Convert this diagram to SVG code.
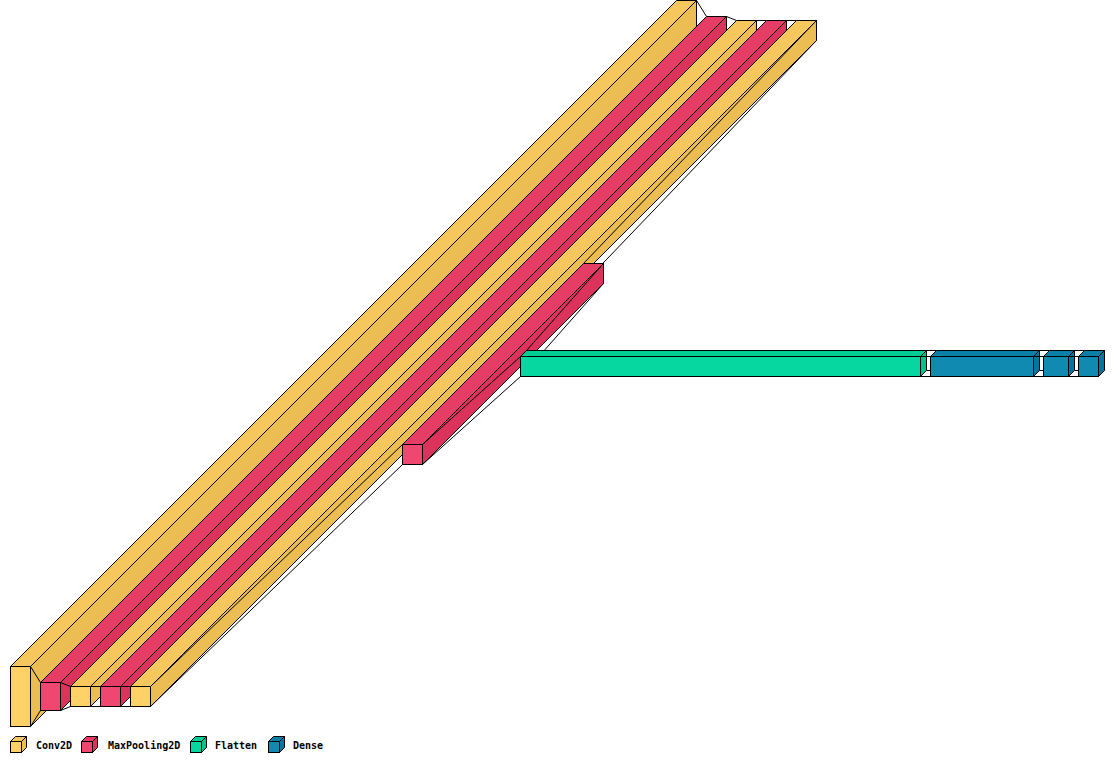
<svg xmlns="http://www.w3.org/2000/svg" xmlns:xlink="http://www.w3.org/1999/xlink" width="1115" height="763" viewBox="0 0 1115 763">
<style>
  .box rect, .box polygon { stroke:#000; stroke-width:1; stroke-linejoin:miter; }
  .conv .f{fill:#FFD166} .conv .t{fill:#F5C75C} .conv .s{fill:#EBBD52}
  .pool .f{fill:#EF476F} .pool .t{fill:#E53D65} .pool .s{fill:#DB335B}
  .flat .f{fill:#06D6A0} .flat .t{fill:#00CC96} .flat .s{fill:#00C28C}
  .dense .f{fill:#118AB2} .dense .t{fill:#0780A8} .dense .s{fill:#00769E}
  .connectors line { stroke:#000; stroke-width:1; fill:none; }
  .legend text { font-family:"DejaVu Sans Mono","Liberation Mono",monospace; font-weight:bold; font-size:10px; fill:#000; }
</style>
<defs>
  <polygon id="s2" points="40.5,710.5 40.5,682.5 706.5,16.5 726.5,16.5 726.5,44.5 60.5,710.5"/>
  <polygon id="s3" points="70.5,706.5 70.5,686.5 736.5,20.5 756.5,20.5 756.5,40.5 90.5,706.5"/>
  <polygon id="s4" points="100.5,706.5 100.5,686.5 766.5,20.5 786.5,20.5 786.5,40.5 120.5,706.5"/>
  <polygon id="s5" points="130.5,706.5 130.5,686.5 796.5,20.5 816.5,20.5 816.5,40.5 150.5,706.5"/>
  <polygon id="s6" points="402.5,464.5 402.5,444.5 583.5,263.5 603.5,263.5 603.5,283.5 422.5,464.5"/>
  <polygon id="s7" points="520.5,376.5 520.5,356.5 526.5,350.5 926.5,350.5 926.5,370.5 920.5,376.5"/>
  <polygon id="s8" points="930.5,376.5 930.5,356.5 936.5,350.5 1039.5,350.5 1039.5,370.5 1033.5,376.5"/>
  <polygon id="s9" points="1043.5,376.5 1043.5,356.5 1049.5,350.5 1074.5,350.5 1074.5,370.5 1068.5,376.5"/>
  <polygon id="s10" points="1078.5,376.5 1078.5,356.5 1084.5,350.5 1104.5,350.5 1104.5,370.5 1098.5,376.5"/>
  <mask id="m2" maskUnits="userSpaceOnUse" x="0" y="0" width="1115" height="763">
    <rect width="1115" height="763" fill="#fff"/>
    <g fill="#000"><use xlink:href="#s2"/><use xlink:href="#s3"/><use xlink:href="#s4"/><use xlink:href="#s5"/><use xlink:href="#s6"/><use xlink:href="#s7"/><use xlink:href="#s8"/><use xlink:href="#s9"/><use xlink:href="#s10"/></g>
  </mask>
  <mask id="m3" maskUnits="userSpaceOnUse" x="0" y="0" width="1115" height="763">
    <rect width="1115" height="763" fill="#fff"/>
    <g fill="#000"><use xlink:href="#s3"/><use xlink:href="#s4"/><use xlink:href="#s5"/><use xlink:href="#s6"/><use xlink:href="#s7"/><use xlink:href="#s8"/><use xlink:href="#s9"/><use xlink:href="#s10"/></g>
  </mask>
  <mask id="m4" maskUnits="userSpaceOnUse" x="0" y="0" width="1115" height="763">
    <rect width="1115" height="763" fill="#fff"/>
    <g fill="#000"><use xlink:href="#s4"/><use xlink:href="#s5"/><use xlink:href="#s6"/><use xlink:href="#s7"/><use xlink:href="#s8"/><use xlink:href="#s9"/><use xlink:href="#s10"/></g>
  </mask>
  <mask id="m5" maskUnits="userSpaceOnUse" x="0" y="0" width="1115" height="763">
    <rect width="1115" height="763" fill="#fff"/>
    <g fill="#000"><use xlink:href="#s5"/><use xlink:href="#s6"/><use xlink:href="#s7"/><use xlink:href="#s8"/><use xlink:href="#s9"/><use xlink:href="#s10"/></g>
  </mask>
  <mask id="m6" maskUnits="userSpaceOnUse" x="0" y="0" width="1115" height="763">
    <rect width="1115" height="763" fill="#fff"/>
    <g fill="#000"><use xlink:href="#s6"/><use xlink:href="#s7"/><use xlink:href="#s8"/><use xlink:href="#s9"/><use xlink:href="#s10"/></g>
  </mask>
  <mask id="m7" maskUnits="userSpaceOnUse" x="0" y="0" width="1115" height="763">
    <rect width="1115" height="763" fill="#fff"/>
    <g fill="#000"><use xlink:href="#s7"/><use xlink:href="#s8"/><use xlink:href="#s9"/><use xlink:href="#s10"/></g>
  </mask>
  <mask id="m8" maskUnits="userSpaceOnUse" x="0" y="0" width="1115" height="763">
    <rect width="1115" height="763" fill="#fff"/>
    <g fill="#000"><use xlink:href="#s8"/><use xlink:href="#s9"/><use xlink:href="#s10"/></g>
  </mask>
  <mask id="m9" maskUnits="userSpaceOnUse" x="0" y="0" width="1115" height="763">
    <rect width="1115" height="763" fill="#fff"/>
    <g fill="#000"><use xlink:href="#s9"/><use xlink:href="#s10"/></g>
  </mask>
  <mask id="m10" maskUnits="userSpaceOnUse" x="0" y="0" width="1115" height="763">
    <rect width="1115" height="763" fill="#fff"/>
    <g fill="#000"><use xlink:href="#s10"/></g>
  </mask>
</defs>
<rect width="1115" height="763" fill="#fff"/>

<g id="conv2d_1" class="box conv">
  <rect class="f" x="10.5" y="666.5" width="20" height="60"/>
  <polygon class="t" points="10.5,666.5 676.5,0.5 696.5,0.5 30.5,666.5"/>
  <polygon class="s" points="696.5,0.5 696.5,60.5 30.5,726.5 30.5,666.5"/>
</g>
<g id="max_pooling2d_1" class="box pool">
  <rect class="f" x="40.5" y="682.5" width="20" height="28"/>
  <polygon class="t" points="40.5,682.5 706.5,16.5 726.5,16.5 60.5,682.5"/>
  <polygon class="s" points="726.5,16.5 726.5,44.5 60.5,710.5 60.5,682.5"/>
</g>
<g id="conv2d_2" class="box conv">
  <rect class="f" x="70.5" y="686.5" width="20" height="20"/>
  <polygon class="t" points="70.5,686.5 736.5,20.5 756.5,20.5 90.5,686.5"/>
  <polygon class="s" points="756.5,20.5 756.5,40.5 90.5,706.5 90.5,686.5"/>
</g>
<g id="max_pooling2d_2" class="box pool">
  <rect class="f" x="100.5" y="686.5" width="20" height="20"/>
  <polygon class="t" points="100.5,686.5 766.5,20.5 786.5,20.5 120.5,686.5"/>
  <polygon class="s" points="786.5,20.5 786.5,40.5 120.5,706.5 120.5,686.5"/>
</g>
<g id="conv2d_3" class="box conv">
  <rect class="f" x="130.5" y="686.5" width="20" height="20"/>
  <polygon class="t" points="130.5,686.5 796.5,20.5 816.5,20.5 150.5,686.5"/>
  <polygon class="s" points="816.5,20.5 816.5,40.5 150.5,706.5 150.5,686.5"/>
</g>
<g id="max_pooling2d_3" class="box pool">
  <rect class="f" x="402.5" y="444.5" width="20" height="20"/>
  <polygon class="t" points="402.5,444.5 583.5,263.5 603.5,263.5 422.5,444.5"/>
  <polygon class="s" points="603.5,263.5 603.5,283.5 422.5,464.5 422.5,444.5"/>
</g>
<g id="flatten" class="box flat">
  <rect class="f" x="520.5" y="356.5" width="400" height="20"/>
  <polygon class="t" points="520.5,356.5 526.5,350.5 926.5,350.5 920.5,356.5"/>
  <polygon class="s" points="926.5,350.5 926.5,370.5 920.5,376.5 920.5,356.5"/>
</g>
<g id="dense_1" class="box dense">
  <rect class="f" x="930.5" y="356.5" width="103" height="20"/>
  <polygon class="t" points="930.5,356.5 936.5,350.5 1039.5,350.5 1033.5,356.5"/>
  <polygon class="s" points="1039.5,350.5 1039.5,370.5 1033.5,376.5 1033.5,356.5"/>
</g>
<g id="dense_2" class="box dense">
  <rect class="f" x="1043.5" y="356.5" width="25" height="20"/>
  <polygon class="t" points="1043.5,356.5 1049.5,350.5 1074.5,350.5 1068.5,356.5"/>
  <polygon class="s" points="1074.5,350.5 1074.5,370.5 1068.5,376.5 1068.5,356.5"/>
</g>
<g id="dense_3" class="box dense">
  <rect class="f" x="1078.5" y="356.5" width="20" height="20"/>
  <polygon class="t" points="1078.5,356.5 1084.5,350.5 1104.5,350.5 1098.5,356.5"/>
  <polygon class="s" points="1104.5,350.5 1104.5,370.5 1098.5,376.5 1098.5,356.5"/>
</g>

<g id="connectors" class="connectors">
  <g mask="url(#m2)">
    <line x1="696.5" y1="0.5" x2="706.5" y2="16.5"/>
    <line x1="696.5" y1="60.5" x2="706.5" y2="44.5"/>
    <line x1="30.5" y1="726.5" x2="40.5" y2="710.5"/>
    <line x1="30.5" y1="666.5" x2="40.5" y2="682.5"/>
  </g>
  <g mask="url(#m3)">
    <line x1="726.5" y1="16.5" x2="736.5" y2="20.5"/>
    <line x1="726.5" y1="44.5" x2="736.5" y2="40.5"/>
    <line x1="60.5" y1="710.5" x2="70.5" y2="706.5"/>
    <line x1="60.5" y1="682.5" x2="70.5" y2="686.5"/>
  </g>
  <g mask="url(#m4)">
    <line x1="756.5" y1="20.5" x2="766.5" y2="20.5"/>
    <line x1="756.5" y1="40.5" x2="766.5" y2="40.5"/>
    <line x1="90.5" y1="706.5" x2="100.5" y2="706.5"/>
    <line x1="90.5" y1="686.5" x2="100.5" y2="686.5"/>
  </g>
  <g mask="url(#m5)">
    <line x1="786.5" y1="20.5" x2="796.5" y2="20.5"/>
    <line x1="786.5" y1="40.5" x2="796.5" y2="40.5"/>
    <line x1="120.5" y1="706.5" x2="130.5" y2="706.5"/>
    <line x1="120.5" y1="686.5" x2="130.5" y2="686.5"/>
  </g>
  <g mask="url(#m6)">
    <line x1="816.5" y1="20.5" x2="583.5" y2="263.5"/>
    <line x1="816.5" y1="40.5" x2="583.5" y2="283.5"/>
    <line x1="150.5" y1="706.5" x2="402.5" y2="464.5"/>
    <line x1="150.5" y1="686.5" x2="402.5" y2="444.5"/>
  </g>
  <g mask="url(#m7)">
    <line x1="603.5" y1="263.5" x2="526.5" y2="350.5"/>
    <line x1="603.5" y1="283.5" x2="526.5" y2="370.5"/>
    <line x1="422.5" y1="464.5" x2="520.5" y2="376.5"/>
    <line x1="422.5" y1="444.5" x2="520.5" y2="356.5"/>
  </g>
  <g mask="url(#m8)">
    <line x1="926.5" y1="350.5" x2="936.5" y2="350.5"/>
    <line x1="926.5" y1="370.5" x2="936.5" y2="370.5"/>
    <line x1="920.5" y1="376.5" x2="930.5" y2="376.5"/>
    <line x1="920.5" y1="356.5" x2="930.5" y2="356.5"/>
  </g>
  <g mask="url(#m9)">
    <line x1="1039.5" y1="350.5" x2="1049.5" y2="350.5"/>
    <line x1="1039.5" y1="370.5" x2="1049.5" y2="370.5"/>
    <line x1="1033.5" y1="376.5" x2="1043.5" y2="376.5"/>
    <line x1="1033.5" y1="356.5" x2="1043.5" y2="356.5"/>
  </g>
  <g mask="url(#m10)">
    <line x1="1074.5" y1="350.5" x2="1084.5" y2="350.5"/>
    <line x1="1074.5" y1="370.5" x2="1084.5" y2="370.5"/>
    <line x1="1068.5" y1="376.5" x2="1078.5" y2="376.5"/>
    <line x1="1068.5" y1="356.5" x2="1078.5" y2="356.5"/>
  </g>
</g>

<g id="legend" class="legend">
  <g id="legend_conv2d" class="box conv">
    <rect class="f" x="10.5" y="741.5" width="11" height="11"/>
    <polygon class="t" points="10.5,741.5 15.5,736.5 26.5,736.5 21.5,741.5"/>
    <polygon class="s" points="26.5,736.5 26.5,747.5 21.5,752.5 21.5,741.5"/>
    <text x="36" y="749">Conv2D</text>
  </g>
  <g id="legend_maxpooling2d" class="box pool">
    <rect class="f" x="81.5" y="741.5" width="11" height="11"/>
    <polygon class="t" points="81.5,741.5 86.5,736.5 97.5,736.5 92.5,741.5"/>
    <polygon class="s" points="97.5,736.5 97.5,747.5 92.5,752.5 92.5,741.5"/>
    <text x="108" y="749">MaxPooling2D</text>
  </g>
  <g id="legend_flatten" class="box flat">
    <rect class="f" x="190.5" y="741.5" width="11" height="11"/>
    <polygon class="t" points="190.5,741.5 195.5,736.5 206.5,736.5 201.5,741.5"/>
    <polygon class="s" points="206.5,736.5 206.5,747.5 201.5,752.5 201.5,741.5"/>
    <text x="215" y="749">Flatten</text>
  </g>
  <g id="legend_dense" class="box dense">
    <rect class="f" x="268.5" y="741.5" width="11" height="11"/>
    <polygon class="t" points="268.5,741.5 273.5,736.5 284.5,736.5 279.5,741.5"/>
    <polygon class="s" points="284.5,736.5 284.5,747.5 279.5,752.5 279.5,741.5"/>
    <text x="293" y="749">Dense</text>
  </g>
</g>
</svg>
